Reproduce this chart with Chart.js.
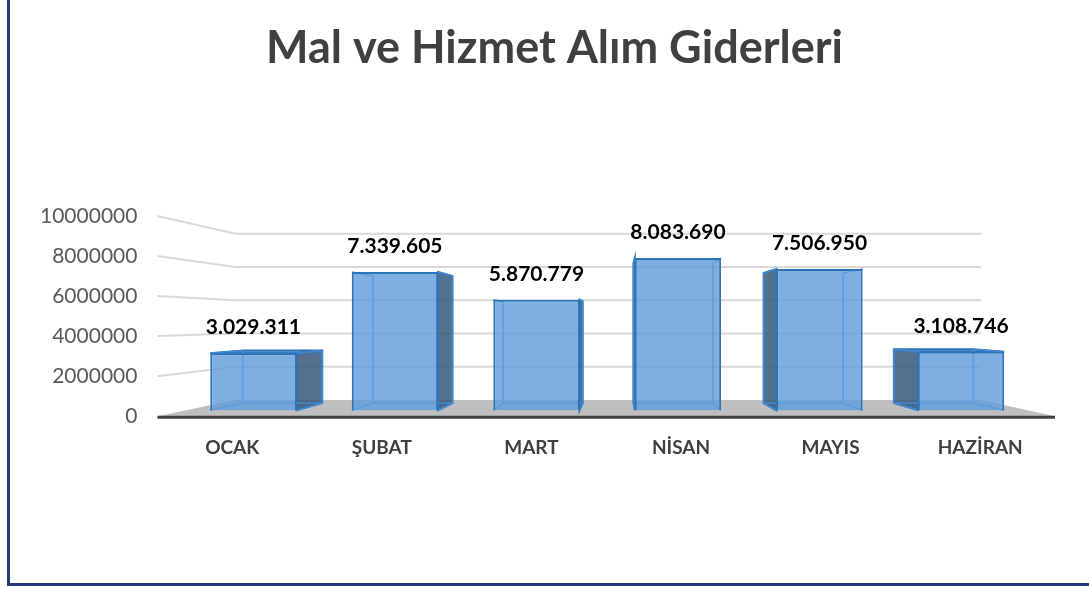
<!DOCTYPE html>
<html lang="tr">
<head>
    <meta charset="UTF-8">
    <title>Mal ve Hizmet Alım Giderleri</title>
    <script src="https://cdn.jsdelivr.net/npm/chart.js"></script>
    <style>
        html, body {
            margin: 0;
            padding: 0;
            background: #fff;
            overflow: hidden;
        }
        #wrap {
            position: relative;
            width: 1089px;
            height: 589px;
        }
        #frame {
            position: absolute;
            left: 7px;
            top: -5px;
            width: 1100px;
            height: 591px;
            border-left: 3px solid #1f3a78;
            border-bottom: 3px solid #1f3a78;
            box-sizing: border-box;
            pointer-events: none;
        }
    </style>
</head>
<body>
<div id="wrap">
    <canvas id="giderChart"></canvas>
    <div id="frame"></div>
</div>

<script>
    // veriler
    const chartTitle = 'Mal ve Hizmet Alım Giderleri';
    const categories = ['OCAK', 'ŞUBAT', 'MART', 'NİSAN', 'MAYIS', 'HAZİRAN'];
    const values = [3029311, 7339605, 5870779, 8083690, 7506950, 3108746];
    const yTicks = [0, 2000000, 4000000, 6000000, 8000000, 10000000];

    // 3.029.311 gibi nokta ile ayır
    function fmt(v) {
        return String(v).replace(/\B(?=(\d{3})+(?!\d))/g, '.');
    }

    // basit perspektif: kaçış noktası ve derinlik oranları
    const WALL_DEPTH = 0.8307;
    const BAR_DEPTH = 0.92;

    function vanishing(ca) {
        return {
            x: ca.left + (ca.right - ca.left) * 0.513,
            y: ca.top + (ca.bottom - ca.top) * 0.525
        };
    }
    function proj(vp, x, y, s) {
        return { x: vp.x + (x - vp.x) * s, y: vp.y + (y - vp.y) * s };
    }

    const fake3d = {
        id: 'fake3d',
        beforeDatasetsDraw(chart) {
            const ctx = chart.ctx;
            const ca = chart.chartArea;
            const y = chart.scales.y;
            const vp = vanishing(ca);

            // başlık
            ctx.save();
            ctx.fillStyle = '#404040';
            ctx.font = 'bold 45px Lato';
            ctx.textAlign = 'center';
            ctx.textBaseline = 'alphabetic';
            ctx.fillText(chartTitle, chart.width / 2 + 10, 63);

            // zemin
            const fl = proj(vp, ca.left, ca.bottom, WALL_DEPTH);
            const fr = proj(vp, ca.right, ca.bottom, WALL_DEPTH);
            ctx.fillStyle = '#bfbfbf';
            ctx.beginPath();
            ctx.moveTo(ca.left, ca.bottom);
            ctx.lineTo(fl.x, fl.y);
            ctx.lineTo(fr.x, fr.y);
            ctx.lineTo(ca.right, ca.bottom);
            ctx.closePath();
            ctx.fill();

            // ızgara çizgileri
            ctx.strokeStyle = '#d9d9d9';
            ctx.lineWidth = 2;
            yTicks.forEach(v => {
                if (v === 0) return;
                const py = y.getPixelForValue(v);
                const a = proj(vp, ca.left, py, WALL_DEPTH);
                const b = proj(vp, ca.right, py, WALL_DEPTH);
                ctx.beginPath();
                ctx.moveTo(ca.left, py);
                ctx.lineTo(a.x, a.y);
                ctx.lineTo(b.x, b.y);
                ctx.stroke();
            });

            // zemin ön kenarı
            ctx.strokeStyle = '#404040';
            ctx.lineWidth = 3;
            ctx.beginPath();
            ctx.moveTo(ca.left, ca.bottom + 1);
            ctx.lineTo(ca.right, ca.bottom + 1);
            ctx.stroke();

            // sütunların arka kenarları ve yan yüzleri
            const meta = chart.getDatasetMeta(0);
            meta.data.forEach(bar => {
                const p = bar.getProps(['x', 'y', 'width', 'base'], true);
                const l = p.x - p.width / 2, r = p.x + p.width / 2;
                const t = p.y, bt = p.base;
                const tl = proj(vp, l, t, BAR_DEPTH), tr = proj(vp, r, t, BAR_DEPTH);
                const bl = proj(vp, l, bt, BAR_DEPTH), br = proj(vp, r, bt, BAR_DEPTH);

                ctx.fillStyle = 'rgba(62, 92, 128, 0.88)';
                ctx.strokeStyle = '#2e75b6';
                ctx.lineWidth = 2;
                if (tr.x > r + 1) {
                    ctx.beginPath();
                    ctx.moveTo(r, t); ctx.lineTo(tr.x, tr.y);
                    ctx.lineTo(br.x, br.y); ctx.lineTo(r, bt);
                    ctx.closePath(); ctx.fill(); ctx.stroke();
                }
                if (tl.x < l - 1) {
                    ctx.beginPath();
                    ctx.moveTo(l, t); ctx.lineTo(tl.x, tl.y);
                    ctx.lineTo(bl.x, bl.y); ctx.lineTo(l, bt);
                    ctx.closePath(); ctx.fill(); ctx.stroke();
                }
                if (tl.y < t) {
                    ctx.fillStyle = 'rgba(91, 155, 213, 0.9)';
                    ctx.beginPath();
                    ctx.moveTo(l, t); ctx.lineTo(tl.x, tl.y);
                    ctx.lineTo(tr.x, tr.y); ctx.lineTo(r, t);
                    ctx.closePath(); ctx.fill(); ctx.stroke();
                }

                // arka kenarlar (cam görünüm)
                ctx.strokeStyle = 'rgba(70, 140, 210, 0.9)';
                ctx.lineWidth = 1.5;
                ctx.beginPath();
                ctx.moveTo(tl.x, tl.y); ctx.lineTo(bl.x, bl.y);
                ctx.lineTo(br.x, br.y); ctx.lineTo(tr.x, tr.y);
                ctx.moveTo(l, bt); ctx.lineTo(bl.x, bl.y);
                ctx.moveTo(r, bt); ctx.lineTo(br.x, br.y);
                ctx.moveTo(l, t); ctx.lineTo(tl.x, tl.y);
                ctx.moveTo(r, t); ctx.lineTo(tr.x, tr.y);
                ctx.stroke();
            });
            ctx.restore();
        },
        afterDatasetsDraw(chart) {
            const ctx = chart.ctx;
            const meta = chart.getDatasetMeta(0);
            ctx.save();
            ctx.fillStyle = '#000';
            ctx.font = 'bold 21px Lato';
            ctx.textAlign = 'center';
            ctx.textBaseline = 'alphabetic';
            meta.data.forEach((bar, i) => {
                ctx.fillText(fmt(values[i]), bar.x, bar.y - 19);
            });
            ctx.restore();
        }
    };

    const ctx = document.getElementById('giderChart').getContext('2d');
    new Chart(ctx, {
        type: 'bar',
        data: {
            labels: categories,
            datasets: [{
                data: values.map((v, i) => ({ x: i, y: v })),
                xAxisID: 'xb',
                yAxisID: 'yb',
                backgroundColor: 'rgba(96, 158, 218, 0.82)',
                borderColor: '#2e75b6',
                borderWidth: 2,
                categoryPercentage: 1,
                barPercentage: 0.61
            }]
        },
        options: {
            responsive: true,
            maintainAspectRatio: false,
            animation: false,
            layout: {
                padding: { left: 20, right: 34, top: 216, bottom: 110 }
            },
            plugins: {
                legend: { display: false },
                tooltip: { enabled: false },
                title: { display: false }
            },
            scales: {
                x: {
                    type: 'category',
                    position: 'bottom',
                    offset: true,
                    grid: { display: false, drawTicks: false },
                    border: { display: false },
                    ticks: {
                        color: '#404040',
                        font: { family: 'Lato', size: 19, weight: 'bold' },
                        padding: 20
                    }
                },
                xb: {
                    type: 'linear',
                    display: false,
                    offset: false,
                    min: -0.678,
                    max: 5.664,
                    afterBuildTicks: s => { s.ticks = categories.map((c, i) => ({ value: i })); }
                },
                y: {
                    position: 'left',
                    min: 0,
                    max: 10000000,
                    afterBuildTicks: s => { s.ticks = yTicks.map(v => ({ value: v })); },
                    grid: { display: false, drawTicks: false },
                    border: { display: false },
                    ticks: {
                        color: '#595959',
                        font: { family: 'Lato', size: 21 },
                        padding: 20,
                        callback: v => String(v)
                    }
                },
                yb: {
                    display: false,
                    min: -319000,
                    max: 10319000
                }
            }
        },
        plugins: [fake3d]
    });
</script>
</body>
</html>
